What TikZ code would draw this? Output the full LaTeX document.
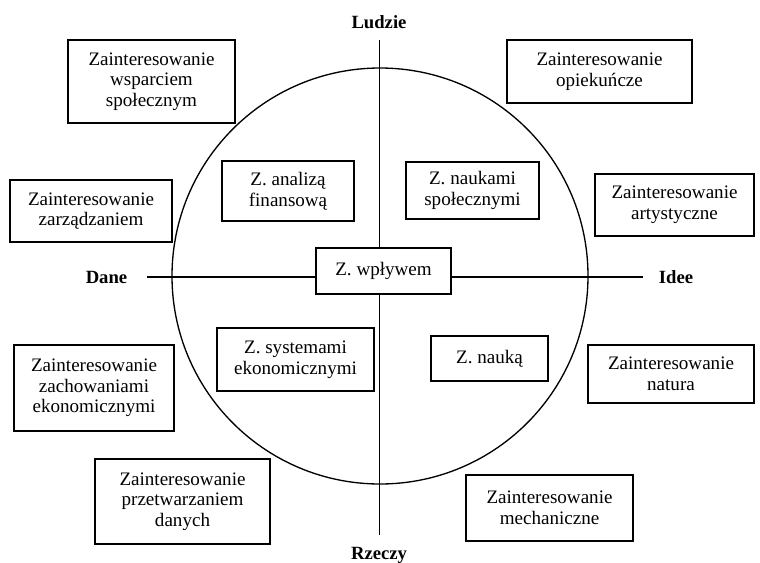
\documentclass[tikz,border=0pt]{standalone}
\usepackage{fontspec}
\setmainfont{Liberation Serif}
\begin{document}
\begin{tikzpicture}[x=0.75pt,y=-0.75pt,
  box/.style={draw=black,line width=1.4pt,fill=white,align=center,
    inner sep=0pt,font=\fontsize{14.3pt}{15.5pt}\selectfont},
  axislabel/.style={anchor=base,inner sep=0pt,
    font=\fontsize{14pt}{15pt}\selectfont\bfseries},
  axis/.style={line width=1pt},
  ring/.style={line width=1pt}]
  % canvas
  \useasboundingbox (0,0) rectangle (760,562);

  % axis ends
  \coordinate (top) at (379.5,40);
  \coordinate (bottom) at (379.5,535);
  \coordinate (left) at (147,277);
  \coordinate (right) at (643,277);
  \coordinate (centre) at (380,276);

  % circle and axes
  \draw[ring] (centre) circle[radius=208];
  \draw[axis] (top) -- (bottom);
  \draw[axis] (left) -- (right);

  % axis labels
  \node[axislabel] (ludzie) at (379,28) {Ludzie};
  \node[axislabel] (rzeczy) at (379,559) {Rzeczy};
  \node[axislabel] (dane) at (106.5,283) {Dane};
  \node[axislabel] (idee) at (676,283) {Idee};

  % outer interests
  \node[box,minimum width=167*0.75pt,minimum height=83*0.75pt] (wsp) at (151.5,81.5)
    {Zainteresowanie\\wsparciem\\społecznym};
  \node[box,minimum width=185*0.75pt,minimum height=63*0.75pt] (opi) at (599.5,71.5)
    {Zainteresowanie\\opiekuńcze};
  \node[box,minimum width=162*0.75pt,minimum height=62*0.75pt] (zarz) at (91,211)
    {Zainteresowanie\\zarządzaniem};
  \node[box,minimum width=159*0.75pt,minimum height=62*0.75pt] (art) at (674.5,205)
    {Zainteresowanie\\artystyczne};
  \node[box,minimum width=160*0.75pt,minimum height=86*0.75pt] (zach) at (94,388)
    {Zainteresowanie\\zachowaniami\\ekonomicznymi};
  \node[box,minimum width=166*0.75pt,minimum height=58*0.75pt] (nat) at (671,374)
    {Zainteresowanie\\natura};
  \node[box,minimum width=175*0.75pt,minimum height=85*0.75pt] (przet) at (182.5,501.5)
    {Zainteresowanie\\przetwarzaniem\\danych};
  \node[box,minimum width=167*0.75pt,minimum height=66*0.75pt] (mech) at (549.5,508)
    {Zainteresowanie\\mechaniczne};

  % inner interests
  \node[box,minimum width=132*0.75pt,minimum height=60*0.75pt] (anal) at (288,191)
    {Z. analizą\\finansową};
  \node[box,minimum width=133*0.75pt,minimum height=57*0.75pt] (nauk) at (472.5,190.5)
    {Z. naukami\\społecznymi};
  \node[box,minimum width=135*0.75pt,minimum height=46*0.75pt] (wpl) at (383.5,271)
    {Z. wpływem};
  \node[box,minimum width=157*0.75pt,minimum height=63*0.75pt] (sys) at (295.5,359.5)
    {Z. systemami\\ekonomicznymi};
  \node[box,minimum width=117*0.75pt,minimum height=45*0.75pt] (nauka) at (489.5,358.5)
    {Z. nauką};
\end{tikzpicture}
\end{document}
